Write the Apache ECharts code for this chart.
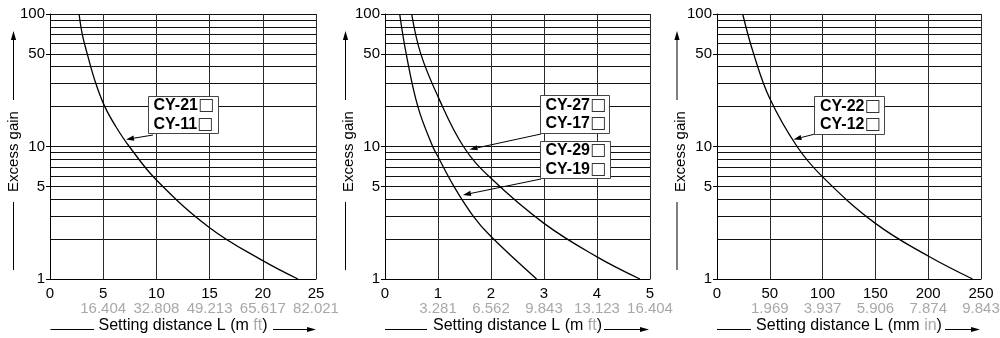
<!DOCTYPE html>
<html><head><meta charset="utf-8">
<script src="https://cdn.jsdelivr.net/npm/echarts@6/dist/echarts.min.js"></script>
<style>html,body{margin:0;padding:0;background:#fff}#c{width:1000px;height:338px}</style>
</head><body><div id="c"></div>
<script>
// ---- data ----
const gainMajor = [1, 5, 10, 50, 100];
const gainGrid = [1,2,3,4,5,6,7,8,9,10,20,30,40,50,60,70,80,90,100];

// Panel 1: CY-21 / CY-11 (m)
const p1Dist = [2.73, 3.04, 3.5, 4.3, 5.15, 6.2, 7.45, 10, 15, 20, 23.3];
const p1Gain = [100, 70, 50, 30, 20, 14.1, 10, 5.59, 2.44, 1.375, 1];
// Panel 2: CY-29 / CY-19 (inner curve)
const p2aDist = [0.277, 0.40, 0.62, 0.9, 1.0, 1.3, 1.66, 2.0, 2.86];
const p2aGain = [100, 50, 20, 10, 8.36, 5, 3, 2.09, 1];
// Panel 2: CY-27 / CY-17 (outer curve)
const p2bDist = [0.503, 0.675, 1.0, 1.48, 2.0, 3.0, 4.0, 4.81];
const p2bGain = [100, 50, 23.8, 10, 5.75, 2.63, 1.47, 1];
// Panel 3: CY-22 / CY-12 (mm)
const p3Dist = [24.3, 34.7, 50, 75.8, 100, 150, 200, 242];
const p3Gain = [100, 50, 23, 10, 5.9, 2.63, 1.49, 1];

const p1Ticks = [0, 5, 10, 15, 20, 25];
const p1Sub = ['', '16.404', '32.808', '49.213', '65.617', '82.021'];
const p2Ticks = [0, 1, 2, 3, 4, 5];
const p2Sub = ['', '3.281', '6.562', '9.843', '13.123', '16.404'];
const p3Ticks = [0, 50, 100, 150, 200, 250];
const p3Sub = ['', '1.969', '3.937', '5.906', '7.874', '9.843'];

const xNames = ['Setting distance L (m {g|ft})', 'Setting distance L (m {g|ft})', 'Setting distance L (mm {g|in})'];
const yName = 'Excess gain';
const boxLabels = [['CY-21', 'CY-11'], ['CY-27', 'CY-17'], ['CY-29', 'CY-19'], ['CY-22', 'CY-12']];
const boxSuffix = '□';

// ---- chart ----
const FONT = '"Liberation Sans", Arial, Helvetica, sans-serif';
const zip = (a, b) => a.map((v, i) => [v, b[i]]);
const grids = [
  {left: 50, top: 14, width: 266, height: 265, outerBoundsMode: 'none', containLabel: false},
  {left: 385, top: 14, width: 265, height: 265, outerBoundsMode: 'none', containLabel: false},
  {left: 717, top: 14, width: 264, height: 265, outerBoundsMode: 'none', containLabel: false}
];
const ticksets = [[p1Ticks, p1Sub], [p2Ticks, p2Sub], [p3Ticks, p3Sub]];

const xAxis = ticksets.map(([t, sub], i) => ({
  type: 'value', gridIndex: i, min: t[0], max: t[t.length - 1], interval: t[1] - t[0],
  axisLine: {show: true, lineStyle: {color: '#000', width: 1}},
  axisTick: {show: false},
  splitLine: {show: true, lineStyle: {color: '#2a2a2a', width: 1}},
  axisLabel: {
    margin: 7, fontFamily: FONT, showMinLabel: true, showMaxLabel: true,
    formatter: (v) => {
      const k = t.indexOf(v);
      return sub[k] ? '{a|' + v + '}\n{b|' + sub[k] + '}' : '{a|' + v + '}';
    },
    rich: {
      a: {fontSize: 15, lineHeight: 15, color: '#000', fontFamily: FONT},
      b: {fontSize: 15, lineHeight: 16, color: '#a8a8a8', fontFamily: FONT}
    }
  },
  name: xNames[i], nameLocation: 'middle', nameGap: 39, nameMoveOverlap: false,
  nameTextStyle: {fontSize: 16, color: '#000', fontFamily: FONT,
    rich: {g: {fontSize: 16, color: '#a8a8a8', fontFamily: FONT}}}
}));

const yAxis = [];
grids.forEach((g, i) => {
  yAxis.push({
    type: 'log', logBase: 10, gridIndex: i, min: 1, max: 100, position: 'left',
    axisLine: {show: true, lineStyle: {color: '#000', width: 1}},
    axisTick: {show: false, customValues: gainGrid},
    axisLabel: {show: false},
    splitLine: {show: true, lineStyle: {color: '#111', width: 1}}
  });
  yAxis.push({
    type: 'log', logBase: 10, gridIndex: i, min: 1, max: 100, position: 'left',
    axisLine: {show: false},
    axisTick: {show: true, length: 4, customValues: gainMajor, lineStyle: {color: '#000'}},
    axisLabel: {customValues: gainMajor, margin: 5, fontSize: 15, color: '#000', fontFamily: FONT},
    splitLine: {show: false},
    name: yName, nameLocation: 'middle', nameGap: 29, nameMoveOverlap: false,
    nameTextStyle: {fontSize: 15, color: '#000', fontFamily: FONT, padding: [0, 10, 0, 0]}
  });
});

const lineSeries = (data, xi) => ({
  type: 'line', xAxisIndex: xi, yAxisIndex: xi * 2, data: data,
  showSymbol: false, symbol: 'none', smooth: 0.4,
  lineStyle: {color: '#000', width: 1.3}, silent: true, z: 5
});

// ---- decorations (arrows, label boxes) ----
function arrow(x1, y1, x2, y2, head, hw, color) {
  head = head || 8; hw = hw || 2.8; color = color || '#000';
  const dx = x2 - x1, dy = y2 - y1, L = Math.hypot(dx, dy);
  const ux = dx / L, uy = dy / L;
  const bx = x2 - ux * head, by = y2 - uy * head;
  return [
    {type: 'line', silent: true, shape: {x1: x1, y1: y1, x2: bx, y2: by}, style: {stroke: color, lineWidth: 1}, z: 10},
    {type: 'polygon', silent: true, shape: {points: [[x2, y2], [bx - uy * hw, by + ux * hw], [bx + uy * hw, by - ux * hw]]}, style: {fill: color}, z: 10}
  ];
}
function box(x, y, w, h, lines, tx) {
  return [
    {type: 'rect', silent: true, shape: {x: x, y: y, width: w, height: h}, style: {fill: '#fff', stroke: '#444', lineWidth: 1}, z: 11},
    {type: 'text', silent: true, x: tx, y: y + h / 2, z: 12,
      style: {
        text: lines.map(s => '{t|' + s + '}{s|' + boxSuffix + '}').join('\n'),
        verticalAlign: 'middle', align: 'left',
        rich: {
          t: {fontSize: 16, fontWeight: 'bold', fontFamily: FONT, fill: '#000', lineHeight: 18.5},
          s: {fontSize: 17, fontFamily: '"DejaVu Sans", sans-serif', fill: '#333', lineHeight: 18.5}
        }
      }}
  ];
}
let gfx = [];
// y-axis arrows
[13.5, 345.5, 677].forEach(x => {
  gfx.push({type: 'line', silent: true, shape: {x1: x, y1: 270, x2: x, y2: 202}, style: {stroke: '#000', lineWidth: 1}});
  gfx = gfx.concat(arrow(x, 100, x, 31, 9, 2.6));
});
// x-axis arrows
[[50.5, 94, 273, 316], [385, 427, 604, 649], [717, 751, 945, 980]].forEach(([a, b, c, d]) => {
  gfx.push({type: 'line', silent: true, shape: {x1: a, y1: 329.5, x2: b, y2: 329.5}, style: {stroke: '#000', lineWidth: 1}});
  gfx = gfx.concat(arrow(c, 329.5, d, 329.5, 9, 2.6));
});
// callouts
gfx = gfx.concat(arrow(153, 135, 126, 139.5, 8, 2.6));
gfx = gfx.concat(box(148.5, 96.5, 70, 37, boxLabels[0], 153.5));
gfx = gfx.concat(arrow(541, 134, 469.5, 149.5, 8, 2.6));
gfx = gfx.concat(arrow(541, 179, 463, 195, 8, 2.6));
gfx = gfx.concat(box(540.5, 95.5, 69, 38, boxLabels[1], 545.5));
gfx = gfx.concat(box(540.5, 141.5, 70, 37, boxLabels[2], 545.5));
gfx = gfx.concat(arrow(815, 134, 793.5, 139.5, 8, 2.6));
gfx = gfx.concat(box(814.5, 96.5, 70, 38, boxLabels[3], 820));

const chart = echarts.init(document.getElementById('c'), null, {renderer: 'canvas'});
chart.setOption({
  animation: false,
  backgroundColor: '#fff',
  textStyle: {fontFamily: FONT},
  grid: grids,
  xAxis: xAxis,
  yAxis: yAxis,
  series: [
    lineSeries(zip(p1Dist, p1Gain), 0),
    lineSeries(zip(p2aDist, p2aGain), 1),
    lineSeries(zip(p2bDist, p2bGain), 1),
    lineSeries(zip(p3Dist, p3Gain), 2)
  ],
  graphic: {elements: gfx}
});
</script></body></html>
